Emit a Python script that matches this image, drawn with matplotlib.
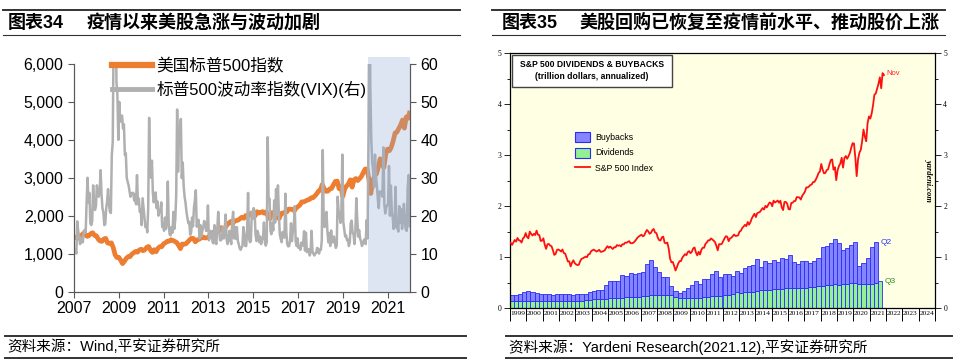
import numpy as np
import matplotlib
matplotlib.use('Agg')
import matplotlib.pyplot as plt
from matplotlib.patches import Rectangle, Patch
from matplotlib.lines import Line2D
from matplotlib.ticker import FuncFormatter, MultipleLocator

plt.rcParams['font.family'] = ['Liberation Sans', 'Noto Sans CJK SC']

# S&P 500 month-end level, Jan 1999 .. Dec 2021
sp500 = [
    1280, 1238, 1286, 1335, 1302, 1373, 1329, 1320, 1283, 1363, 1389, 1469,
    1394, 1366, 1499, 1452, 1421, 1455, 1431, 1518, 1437, 1429, 1315, 1320,
    1366, 1240, 1160, 1249, 1256, 1224, 1211, 1134, 1041, 1060, 1139, 1148,
    1130, 1107, 1147, 1077, 1067, 990, 912, 916, 815, 886, 936, 880,
    856, 841, 848, 917, 964, 975, 990, 1008, 996, 1051, 1058, 1112,
    1131, 1145, 1126, 1107, 1121, 1141, 1102, 1104, 1115, 1130, 1174, 1212,
    1181, 1204, 1181, 1157, 1192, 1191, 1234, 1220, 1229, 1207, 1249, 1248,
    1280, 1281, 1295, 1311, 1270, 1270, 1277, 1304, 1336, 1378, 1401, 1418,
    1438, 1407, 1421, 1482, 1531, 1503, 1455, 1474, 1527, 1549, 1481, 1468,
    1379, 1331, 1323, 1386, 1400, 1280, 1267, 1283, 1165, 969, 896, 903,
    826, 735, 798, 873, 919, 919, 987, 1021, 1057, 1036, 1096, 1115,
    1074, 1104, 1169, 1187, 1089, 1031, 1102, 1049, 1141, 1183, 1181, 1258,
    1286, 1327, 1326, 1364, 1345, 1321, 1292, 1219, 1131, 1253, 1247, 1258,
    1312, 1366, 1408, 1398, 1310, 1362, 1379, 1407, 1441, 1412, 1416, 1426,
    1498, 1515, 1569, 1598, 1631, 1606, 1686, 1633, 1682, 1757, 1806, 1848,
    1783, 1859, 1872, 1884, 1924, 1960, 1931, 2003, 1972, 2018, 2068, 2059,
    1995, 2105, 2068, 2086, 2107, 2063, 2104, 1972, 1920, 2079, 2080, 2044,
    1940, 1932, 2060, 2065, 2097, 2099, 2174, 2171, 2168, 2126, 2199, 2239,
    2279, 2364, 2363, 2384, 2412, 2423, 2470, 2472, 2519, 2575, 2648, 2674,
    2824, 2714, 2641, 2648, 2705, 2718, 2816, 2902, 2914, 2712, 2760, 2507,
    2704, 2784, 2834, 2946, 2752, 2942, 2980, 2926, 2977, 3038, 3141, 3231,
    3226, 2954, 2585, 2912, 3044, 3100, 3271, 3500, 3363, 3270, 3622, 3756,
    3714, 3811, 3973, 4181, 4204, 4298, 4395, 4523, 4308, 4605, 4567, 4766,
]

# VIX, two readings a month, Jan 2007 .. Dec 2021
vix = [
    10.5, 11.0, 10.0, 18.5, 16.0, 14.6, 12.5, 14.2, 13.0, 13.0, 16.0, 16.2, 15.5, 23.5, 30.0, 23.4, 26.0, 18.0, 17.5, 18.5, 28.0, 22.9, 21.5, 22.5,
    28.0, 26.2, 25.0, 26.5, 32.0, 25.6, 22.0, 20.8, 17.5, 17.8, 22.0, 23.9, 27.0, 22.9, 21.0, 20.7, 36.0, 39.4, 69.0, 59.9, 80.0, 55.3, 52.0, 40.0,
    50.0, 44.8, 46.0, 46.4, 43.0, 44.1, 36.0, 36.5, 30.0, 28.9, 28.0, 26.4, 25.0, 25.9, 26.0, 26.0, 24.0, 25.6, 23.0, 30.7, 23.0, 24.5, 21.0, 21.7,
    17.5, 24.6, 22.0, 19.5, 17.0, 17.6, 15.6, 22.0, 45.8, 32.1, 30.0, 34.5, 26.0, 23.5, 26.0, 26.1, 22.0, 23.7, 20.0, 21.2, 21.0, 23.5, 17.0, 17.8,
    16.0, 19.5, 16.5, 18.4, 29.0, 17.7, 15.0, 14.8, 17.0, 15.5, 21.0, 16.5, 19.0, 25.3, 48.0, 31.6, 41.0, 42.9, 45.5, 29.9, 34.0, 27.8, 25.0, 23.4,
    21.0, 19.4, 18.0, 18.4, 15.0, 15.5, 19.5, 17.2, 22.0, 24.1, 26.7, 17.1, 18.0, 18.9, 14.0, 17.5, 14.5, 16.0, 17.0, 18.6, 18.0, 16.0, 16.0, 22.7,
    13.5, 14.3, 16.0, 15.5, 13.0, 12.7, 17.5, 13.5, 12.5, 16.3, 21.0, 16.9, 13.5, 13.5, 14.0, 17.0, 14.0, 16.6, 20.3, 13.8, 12.5, 13.7, 16.0, 13.7,
    12.5, 18.4, 21.0, 14.0, 17.0, 13.9, 17.0, 13.4, 12.5, 11.4, 11.0, 11.6, 12.0, 17.0, 15.0, 12.0, 12.0, 16.3, 26.0, 14.0, 13.0, 13.3, 21.0, 19.2,
    22.0, 21.0, 15.0, 13.3, 16.0, 15.3, 13.0, 14.5, 12.5, 13.8, 14.0, 18.2, 13.0, 12.1, 13.0, 40.7, 24.0, 24.5, 16.0, 15.1, 18.0, 16.1, 24.0, 18.2,
    27.0, 20.2, 28.0, 20.6, 15.0, 13.9, 13.0, 15.7, 15.0, 14.2, 25.8, 15.6, 12.5, 11.9, 12.0, 13.4, 18.0, 13.3, 16.0, 17.1, 22.5, 13.3, 12.0, 14.0,
    11.5, 11.9, 11.0, 12.9, 12.0, 12.4, 15.9, 10.8, 15.5, 10.4, 10.5, 11.2, 9.5, 10.3, 16.0, 10.6, 10.0, 9.5, 10.0, 10.2, 11.5, 11.3, 10.0, 11.0,
    11.0, 13.5, 37.3, 19.9, 17.0, 20.0, 21.0, 15.9, 13.0, 15.4, 12.0, 16.1, 13.0, 13.0, 14.5, 12.9, 11.5, 12.1, 25.0, 21.2, 20.0, 18.1, 21.6, 36.1,
    18.5, 16.6, 14.5, 14.8, 13.5, 13.7, 12.0, 13.1, 18.0, 18.7, 15.5, 15.1, 12.5, 16.1, 24.6, 19.0, 14.5, 16.2, 14.0, 13.2, 12.0, 12.6, 13.5, 13.8,
    12.5, 18.8, 14.0, 40.1, 82.7, 53.5, 40.0, 34.2, 31.9, 27.5, 36.1, 30.4, 28.0, 24.5, 22.0, 26.4, 26.0, 26.4, 25.0, 38.0, 23.0, 20.6, 22.0, 22.8,
    23.0, 33.1, 20.0, 27.9, 21.0, 19.4, 16.5, 18.6, 27.6, 16.8, 17.0, 15.8, 22.5, 18.2, 21.7, 16.5, 20.0, 23.1, 18.5, 16.3, 16.0, 27.2, 30.7, 17.2,
]

# quarterly, trillion dollars annualized, 1999Q1 .. 2021Q3 (buybacks to 2021Q2)
dividends = [
    0.13, 0.13, 0.13, 0.13, 0.13, 0.13, 0.13, 0.13, 0.13, 0.13, 0.13, 0.14,
    0.14, 0.14, 0.14, 0.14, 0.14, 0.14, 0.15, 0.16, 0.17, 0.17, 0.17, 0.18,
    0.19, 0.19, 0.19, 0.20, 0.21, 0.21, 0.22, 0.22, 0.23, 0.24, 0.25, 0.25,
    0.25, 0.25, 0.25, 0.25, 0.21, 0.19, 0.19, 0.20, 0.20, 0.20, 0.20, 0.21,
    0.22, 0.23, 0.24, 0.24, 0.25, 0.26, 0.27, 0.31, 0.29, 0.31, 0.31, 0.32,
    0.33, 0.35, 0.35, 0.36, 0.37, 0.38, 0.38, 0.39, 0.39, 0.39, 0.39, 0.40,
    0.40, 0.41, 0.41, 0.43, 0.44, 0.45, 0.46, 0.47, 0.46, 0.48, 0.48, 0.50,
    0.50, 0.48, 0.47, 0.47, 0.48, 0.49, 0.52,
]
buybacks = [
    0.13, 0.13, 0.14, 0.18, 0.20, 0.19, 0.16, 0.15, 0.14, 0.15, 0.13, 0.14,
    0.13, 0.14, 0.14, 0.12, 0.13, 0.13, 0.12, 0.15, 0.17, 0.18, 0.19, 0.28,
    0.34, 0.34, 0.34, 0.45, 0.41, 0.48, 0.45, 0.46, 0.47, 0.63, 0.69, 0.56,
    0.46, 0.36, 0.36, 0.19, 0.12, 0.10, 0.14, 0.19, 0.25, 0.32, 0.28, 0.35,
    0.34, 0.44, 0.48, 0.36, 0.42, 0.41, 0.36, 0.41, 0.40, 0.47, 0.51, 0.52,
    0.64, 0.46, 0.58, 0.53, 0.58, 0.52, 0.60, 0.58, 0.64, 0.51, 0.47, 0.52,
    0.53, 0.48, 0.52, 0.55, 0.76, 0.76, 0.82, 0.89, 0.82, 0.66, 0.70, 0.73,
    0.79, 0.35, 0.41, 0.52, 0.71, 0.80,
]

left_years = [2007, 2009, 2011, 2013, 2015, 2017, 2019, 2021]
right_years = list(range(1999, 2025))

W, H = 957, 363
fig = plt.figure(figsize=(W / 100, H / 100), dpi=100)


def fx(px):
    return px / W


def fy(py):
    return 1 - py / H


def hline(x0, x1, y, lw):
    fig.add_artist(Line2D([fx(x0), fx(x1)], [fy(y), fy(y)], color='#333333', lw=lw))


# ---- headers and footers
for x0, x1 in [(3, 460), (492, 945)]:
    hline(x0, x1, 10, 1.4)
    hline(x0, x1, 35, 0.8)
for x0, x1 in [(5, 466), (506, 952)]:
    hline(x0, x1, 336, 1.4)
    hline(x0, x1, 358, 1.4)

tkw = dict(fontsize=13, weight='bold', va='center', family=['Liberation Sans', 'Noto Sans CJK SC'])
fig.text(fx(8), fy(23), '图表34', **tkw)
fig.text(fx(87), fy(23), '疫情以来美股急涨与波动加剧', **tkw)
fig.text(fx(502), fy(23), '图表35', **tkw)
fig.text(fx(580), fy(23), '美股回购已恢复至疫情前水平、推动股价上涨', **tkw)
fig.text(fx(7), fy(347), '资料来源：Wind,平安证券研究所', fontsize=10.5, va='center')
fig.text(fx(509), fy(347), '资料来源：Yardeni Research(2021.12),平安证券研究所', fontsize=10.5, va='center')

# ---- left panel
orange = '#ed7d31'
grey = '#b0b0b0'
ax = fig.add_axes([fx(74), fy(291.5), fx(410) - fx(74), fy(64) - fy(291.5)])
ax2 = ax.twinx()

sp_left = np.array(sp500[95:], dtype=float)
t_sp = 2007 + np.arange(len(sp_left)) / 12
ax.plot(t_sp, sp_left, color=orange, lw=3.4, solid_capstyle='butt')
t_vix = 2007 + (np.arange(len(vix)) + 0.5) / 24
ax2.plot(t_vix, vix, color=grey, lw=1.8)

ax.set_xlim(2007, 2022)
ax.set_ylim(0, 6000)
ax2.set_ylim(0, 60)
ax.set_yticks(range(0, 6001, 1000))
ax.yaxis.set_major_formatter(FuncFormatter(lambda v, p: f'{v:,.0f}'))
ax2.set_yticks(range(0, 61, 10))
ax.set_xticks(left_years)
ax.set_xticklabels([str(y) for y in left_years])
for a in (ax, ax2):
    a.tick_params(labelsize=11.5, direction='out', length=4, width=0.8, color='#595959')
    a.spines['top'].set_visible(False)
    for s in ('left', 'right', 'bottom'):
        a.spines[s].set_color('#595959')
        a.spines[s].set_linewidth(0.8)
ax.tick_params(axis='x', pad=3)

shade = ax2.axvspan(2020.13, 2022.0, ymin=0, ymax=1.031, color=(140 / 255, 170 / 255, 210 / 255),
                    alpha=0.3, lw=0, zorder=5)
shade.set_clip_on(False)

handles = [Line2D([], [], color=orange, lw=4.5), Line2D([], [], color=grey, lw=3.5)]
leg = ax2.legend(handles, ['美国标普500指数', '标普500波动率指数(VIX)(右)'], loc='upper left',
                 bbox_to_anchor=(0.092, 1.055), frameon=False, fontsize=12, handlelength=2.4,
                 handletextpad=0.3, labelspacing=0.4, borderaxespad=0)
leg.set_zorder(10)

# ---- right panel
blue_fill = '#8585ff'
green_fill = '#93f093'
edge = '#2a2aff'
bx = fig.add_axes([fx(510), fy(308), fx(935) - fx(510), fy(53) - fy(308)])
bx.set_facecolor('#ffffe3')

div = np.array(dividends)
bb = np.array(buybacks)
tq = 1999 + np.arange(len(div)) * 0.25
bx.bar(tq, div, width=0.25, align='edge', color=green_fill, edgecolor=edge, lw=0.6, zorder=2)
bx.bar(tq[:len(bb)], bb, bottom=div[:len(bb)], width=0.25, align='edge', color=blue_fill,
       edgecolor=edge, lw=0.6, zorder=2)

sp_right = np.array(sp500[:275], dtype=float) / 1000
t_right = 1999 + (np.arange(len(sp_right)) + 0.5) / 12
bx.plot(t_right, sp_right, color='#ff1010', lw=1.3, zorder=3)

bx.annotate('Nov', (t_right[-1], sp_right[-1]), xytext=(2, 1), textcoords='offset points',
            color='#ff2020', fontsize=5.5, va='center')
bx.annotate('Q2', (tq[len(bb) - 1] + 0.25, bb[-1] + div[len(bb) - 1]), xytext=(2, 0),
            textcoords='offset points', color='#3030ff', fontsize=6, va='center')
bx.annotate('Q3', (tq[-1] + 0.25, div[-1]), xytext=(2, 0), textcoords='offset points',
            color='#2e8b2e', fontsize=6, va='center')

bx.set_xlim(1999, 2025)
bx.set_ylim(0, 5)
bx.set_xticks(right_years + [2025])
bx.set_xticklabels([])
bx.set_xticks([y + 0.5 for y in right_years], minor=True)
bx.set_xticklabels([str(y) for y in right_years], minor=True, fontsize=5.4, family='Liberation Serif')
bx.tick_params(axis='x', which='major', direction='out', length=9, width=0.7)
bx.tick_params(axis='x', which='minor', length=0, pad=2)
bx.set_yticks(range(0, 6))
bx.yaxis.set_minor_locator(MultipleLocator(0.5))
bx.tick_params(axis='y', which='both', left=True, right=True, labelleft=True, labelright=True,
               direction='out', width=0.6)
bx.tick_params(axis='y', which='major', length=4, labelsize=5.5, pad=2)
bx.tick_params(axis='y', which='minor', length=2)
for lab in bx.get_yticklabels():
    lab.set_family('Liberation Serif')
for s in bx.spines.values():
    s.set_linewidth(0.9)

bx.add_patch(Rectangle((0.004, 0.867), 0.378, 0.125, transform=bx.transAxes, facecolor='white',
                       edgecolor='#444444', lw=1.0, zorder=4))
bx.text(0.193, 0.953, 'S&P 500 DIVIDENDS & BUYBACKS', transform=bx.transAxes, ha='center',
        va='center', fontsize=6.2, weight='bold', zorder=5)
bx.text(0.193, 0.906, '(trillion dollars, annualized)', transform=bx.transAxes, ha='center',
        va='center', fontsize=6.2, weight='bold', zorder=5)

rh = [Patch(facecolor=blue_fill, edgecolor=edge, lw=0.8),
      Patch(facecolor=green_fill, edgecolor=edge, lw=0.8),
      Line2D([], [], color='#ff1010', lw=1.3)]
bx.legend(rh, ['Buybacks', 'Dividends', 'S&P 500 Index'], loc='upper left',
          bbox_to_anchor=(0.145, 0.705), frameon=False, fontsize=6.3, handlelength=1.7,
          handleheight=1.4, handletextpad=0.6, labelspacing=0.65, borderaxespad=0)

bx.text(0.985, 0.50, 'yardeni.com', transform=bx.transAxes, rotation=270, ha='center', va='center',
        fontsize=6, family='Liberation Serif', style='italic', weight='bold')

fig.savefig('out.png', dpi=100)
